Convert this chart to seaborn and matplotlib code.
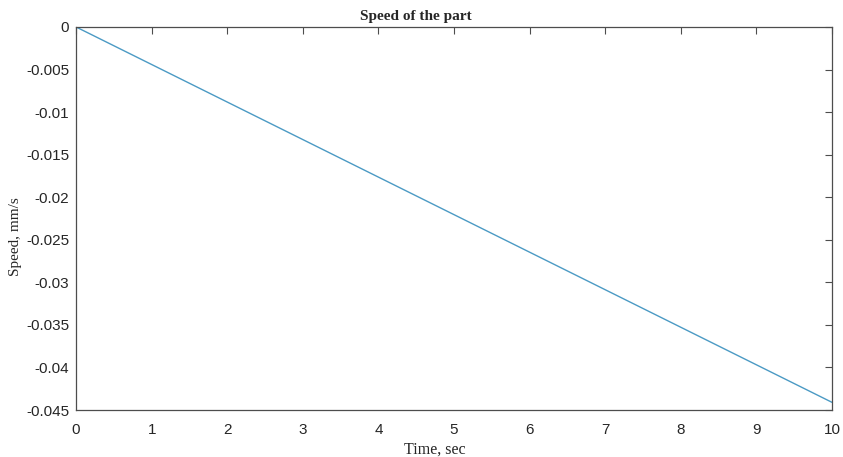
import numpy as np
import pandas as pd
import matplotlib
matplotlib.use("Agg")
import matplotlib.pyplot as plt
import seaborn as sns

# Data: straight line from 0 to about -0.0441
time_sec = [0, 10]
speed_mm_s = [0, -0.0441]
x_ticks = list(range(0, 11))
y_ticks = [0, -0.005, -0.01, -0.015, -0.02, -0.025, -0.03, -0.035, -0.04, -0.045]
y_tick_labels = ["0", "-0.005", "-0.01", "-0.015", "-0.02", "-0.025", "-0.03", "-0.035", "-0.04", "-0.045"]

df = pd.DataFrame({"Time": time_sec, "Speed": speed_mm_s})

sns.set_style("white")
plt.rcParams["font.family"] = ["Liberation Sans", "DejaVu Sans"]

fig = plt.figure(figsize=(8.43, 4.57), dpi=100)
ax = fig.add_axes([0.0902, 0.1028, 0.8968, 0.8382])

sns.lineplot(data=df, x="Time", y="Speed", ax=ax, color="#4b9ac4", linewidth=1.0)

ax.set_xlim(0, 10)
ax.set_ylim(-0.045, 0)
ax.set_xticks(x_ticks)
ax.set_yticks(y_ticks)
ax.set_yticklabels(y_tick_labels)

edge = "#4d4d4d"
for s in ax.spines.values():
    s.set_visible(True)
    s.set_color(edge)
    s.set_linewidth(0.9)
ax.tick_params(direction="in", length=5, width=0.8, colors=edge, labelcolor="#262626",
               labelsize=11, top=True, right=True)
ax.tick_params(axis="x", pad=9)
ax.tick_params(axis="y", pad=5)

# labels sit a bit left of centre in the original
serif = ["Liberation Serif", "DejaVu Serif"]
ax.set_title("Speed of the part", family=serif, fontweight="bold", fontsize=11, pad=5)
ax.title.set_x(0.45)
ax.set_xlabel("Time, sec", family=serif, fontsize=11.5)
ax.xaxis.set_label_coords(0.475, -0.082)
ax.set_ylabel("Speed, mm/s", family=serif, fontsize=11)
ax.yaxis.set_label_coords(-0.071, 0.452)

fig.savefig("out.png", dpi=100)
